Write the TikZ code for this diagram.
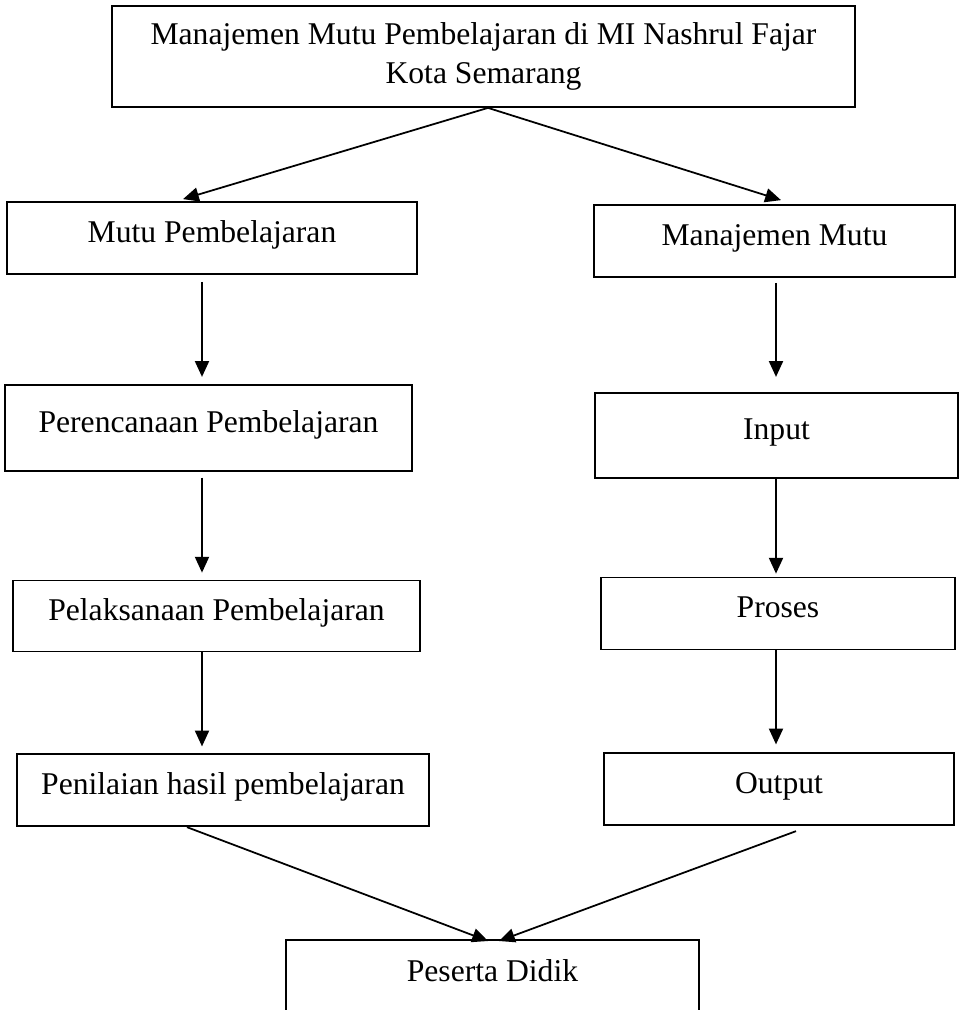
\documentclass[tikz,border=0pt]{standalone}
\usepackage{fontspec}
\setmainfont{Liberation Serif}
\usepackage{tikz}
\usetikzlibrary{positioning, arrows.meta}
\tikzstyle{judul} = [rectangle, 
minimum width=14.86cm, 
minimum height=2.02cm,
align=center, 
draw=black, 
line width=1pt,
font=\fontsize{18}{22}\selectfont]
\tikzstyle{kotak} = [rectangle, 
minimum height=1.44cm, 
text centered, 
text height=13pt,
text depth=8pt,
draw=black, 
line width=1pt,
font=\fontsize{18}{22}\selectfont]
\tikzstyle{kiri} = [kotak, minimum width=8.2cm]
\tikzstyle{kanan} = [kotak, minimum width=7.2cm]
\tikzstyle{arrow} = [line width=1pt,-{Triangle[length=9pt,width=8pt]}]

\begin{document}
\begin{tikzpicture}[node distance=2.1cm]
\useasboundingbox (0,0) rectangle (19.18,-20.2);
\clip (0,0) rectangle (19.18,-20.2);

\node (utama) [judul] at (9.67,-1.13) {Manajemen Mutu Pembelajaran di MI Nashrul Fajar\\Kota Semarang};

\node (mutu) [kiri] at (4.24,-4.76) {Mutu Pembelajaran};
\node (rencana) [kiri, minimum width=8.14cm, minimum height=1.72cm, below=2.18cm of mutu, xshift=-0.07cm] {Perencanaan Pembelajaran};
\node (laksana) [kiri, minimum width=8.14cm, minimum height=1.42cm, below=2.16cm of rencana, xshift=0.16cm] {Pelaksanaan Pembelajaran};
\node (nilai) [kiri, minimum width=8.24cm, below=2.02cm of laksana, xshift=0.13cm] {Penilaian hasil pembelajaran};

\node (manajemen) [kanan, minimum width=7.22cm] at (15.49,-4.82) {Manajemen Mutu};
\node (input) [kanan, minimum width=7.26cm, minimum height=1.7cm, below=2.28cm of manajemen, xshift=0.04cm] {Input};
\node (proses) [kanan, minimum width=7.08cm, below=1.96cm of input, xshift=0.03cm] {Proses};
\node (output) [kanan, minimum width=7cm, below=2.04cm of proses, xshift=0.02cm] {Output};

% kotak bawah terpotong di tepi halaman
\node (peserta) [kotak, minimum width=8.26cm, minimum height=1.5cm, anchor=north] at (9.85,-18.78) {Peserta Didik};

\coordinate (kolkiri) at (4.04,0);
\coordinate (kolkanan) at (15.52,0);

\draw [arrow] ([xshift=0.09cm]utama.south) -- ([xshift=-0.58cm,yshift=0.04cm]mutu.north);
\draw [arrow] ([xshift=0.09cm]utama.south) -- ([xshift=0.13cm,yshift=0.08cm]manajemen.north);

\draw [arrow, shorten <=0.14cm, shorten >=0.14cm] (mutu.south -| kolkiri) -- (rencana.north -| kolkiri);
\draw [arrow, shorten <=0.12cm, shorten >=0.14cm] (rencana.south -| kolkiri) -- (laksana.north -| kolkiri);
\draw [arrow, shorten >=0.14cm] (laksana.south -| kolkiri) -- (nilai.north -| kolkiri);

\draw [arrow, shorten <=0.1cm, shorten >=0.3cm] (manajemen.south -| kolkanan) -- (input.north -| kolkanan);
\draw [arrow, shorten >=0.06cm] (input.south -| kolkanan) -- (proses.north -| kolkanan);
\draw [arrow, shorten >=0.16cm] (proses.south -| kolkanan) -- (output.north -| kolkanan);

\draw [arrow] ([xshift=-0.72cm]nilai.south) -- ([xshift=-0.09cm,yshift=-0.04cm]peserta.north);
\draw [arrow] ([xshift=0.34cm,yshift=-0.1cm]output.south) -- ([xshift=0.13cm,yshift=-0.04cm]peserta.north);

\end{tikzpicture}
\end{document}
